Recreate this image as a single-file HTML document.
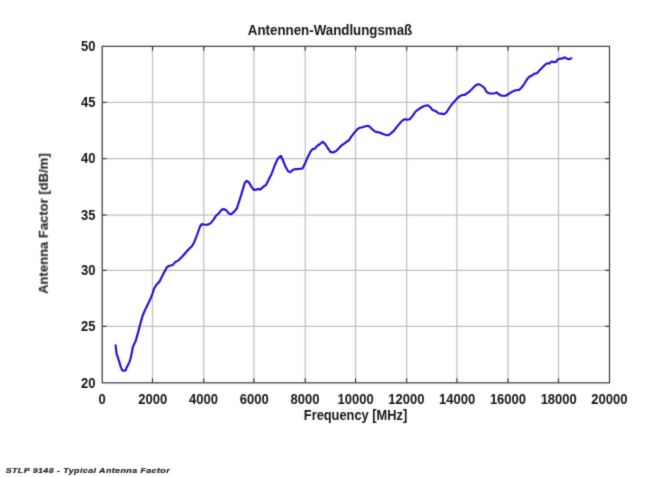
<!DOCTYPE html>
<html><head><meta charset="utf-8"><title>STLP 9148 - Typical Antenna Factor</title>
<style>
html,body{margin:0;padding:0;background:#fff;}
body{width:660px;height:477px;overflow:hidden;font-family:"Liberation Sans",sans-serif;}
svg{display:block;}
svg text{font-family:"Liberation Sans",sans-serif;font-weight:bold;fill:#161616;}
</style></head><body>
<svg width="660" height="477" viewBox="0 0 660 477">
<defs><filter id="soft" x="0" y="0" width="660" height="477" filterUnits="userSpaceOnUse" color-interpolation-filters="sRGB"><feConvolveMatrix order="3" kernelMatrix="0.01823 0.09855 0.01823 0.09855 0.53290 0.09855 0.01823 0.09855 0.01823" divisor="1" edgeMode="duplicate" preserveAlpha="false"/></filter></defs>
<rect x="0" y="0" width="660" height="477" fill="#ffffff"/>
<g filter="url(#soft)">
<g fill="none"><g stroke="#c0c0c0" stroke-width="1.25"><line x1="152.50" y1="46.3" x2="152.50" y2="382.85"/><line x1="203.75" y1="46.3" x2="203.75" y2="382.85"/><line x1="253.90" y1="46.3" x2="253.90" y2="382.85"/><line x1="305.20" y1="46.3" x2="305.20" y2="382.85"/><line x1="355.55" y1="46.3" x2="355.55" y2="382.85"/><line x1="406.65" y1="46.3" x2="406.65" y2="382.85"/><line x1="456.90" y1="46.3" x2="456.90" y2="382.85"/><line x1="508.00" y1="46.3" x2="508.00" y2="382.85"/><line x1="558.50" y1="46.3" x2="558.50" y2="382.85"/></g><g stroke="#c0c0c0" stroke-width="1.25"><line x1="102.2" y1="102.40" x2="609.5" y2="102.40"/><line x1="102.2" y1="158.60" x2="609.5" y2="158.60"/><line x1="102.2" y1="215.00" x2="609.5" y2="215.00"/><line x1="102.2" y1="270.30" x2="609.5" y2="270.30"/><line x1="102.2" y1="326.30" x2="609.5" y2="326.30"/></g></g>
<path d="M115.6,345.3 L116.1,349.5 L116.6,354.1 L117.7,356.8 L119.1,361.4 L120.6,366.4 L122.1,370.2 L123.6,370.7 L125.6,370.4 L126.6,367.7 L128.2,364.5 L129.7,361.4 L130.9,357.3 L131.8,352.7 L132.7,347.7 L133.9,344.5 L135.5,341.6 L136.4,338.4 L138.6,330.6 L140.8,322.1 L142.7,315.5 L145.6,308.9 L149.3,301.3 L152.2,294.7 L153.8,289.2 L156.6,284.5 L159.4,281.7 L163.2,274.2 L167.0,267.0 L169.8,265.8 L172.6,265.1 L175.5,261.9 L178.3,260.6 L182.1,256.8 L185.8,252.5 L188.7,249.2 L191.9,246.2 L194.3,242.1 L197.2,234.5 L200.0,226.5 L201.9,224.0 L204.7,224.7 L207.5,224.8 L210.4,223.4 L213.2,220.1 L216.0,215.8 L218.9,213.2 L221.7,209.6 L224.2,209.1 L226.4,210.4 L229.2,213.8 L231.1,214.2 L234.0,211.9 L236.8,208.5 L239.6,200.0 L242.5,190.6 L244.7,183.0 L246.8,180.8 L248.7,182.1 L250.9,185.8 L253.8,190.0 L255.7,189.6 L258.5,189.1 L260.4,189.6 L263.2,186.8 L266.0,184.9 L268.9,179.2 L271.7,173.6 L274.5,166.0 L277.4,159.4 L279.2,157.2 L280.9,155.8 L282.8,160.0 L285.1,165.7 L287.9,170.9 L290.4,172.3 L292.6,170.0 L295.5,169.1 L299.2,168.9 L302.5,168.5 L304.9,163.8 L307.7,157.2 L310.6,151.5 L312.5,149.1 L314.9,148.7 L317.2,145.8 L320.0,144.0 L322.8,141.7 L325.1,144.0 L327.5,147.7 L330.4,151.9 L333.2,152.5 L336.0,151.1 L338.9,148.3 L341.7,145.3 L344.5,143.3 L347.4,141.1 L348.5,140.8 L351.3,136.6 L354.2,132.8 L357.0,129.6 L359.8,127.7 L362.6,127.2 L365.5,126.2 L368.3,125.8 L370.2,127.2 L373.0,130.0 L375.8,131.9 L379.6,132.5 L382.5,133.8 L385.3,134.7 L388.1,135.3 L390.9,133.4 L393.8,130.9 L396.6,127.2 L399.4,123.8 L402.3,120.6 L404.5,119.2 L407.0,119.6 L409.8,119.2 L412.6,115.9 L415.6,111.5 L418.4,109.3 L421.3,107.5 L424.2,106.0 L427.9,105.3 L429.8,106.6 L432.6,110.0 L435.5,110.9 L438.3,113.2 L441.1,113.6 L444.0,114.2 L446.5,112.2 L449.1,108.2 L451.8,104.5 L454.5,101.4 L457.3,98.2 L459.5,96.4 L462.3,95.0 L464.5,95.0 L466.8,93.5 L470.0,91.1 L471.8,89.3 L474.5,86.4 L476.8,84.6 L478.6,84.3 L480.5,85.0 L482.7,86.5 L484.5,88.0 L485.9,90.9 L487.7,92.7 L490.0,93.5 L492.7,93.5 L495.0,93.2 L496.8,92.4 L498.7,94.3 L501.7,95.7 L505.5,95.7 L508.3,94.2 L511.1,92.3 L514.0,90.9 L516.8,90.0 L519.1,90.0 L521.5,87.5 L524.3,83.8 L527.2,79.1 L529.4,76.8 L532.4,75.3 L534.5,73.6 L537.0,73.2 L539.9,69.9 L542.8,67.1 L545.4,64.4 L547.6,63.2 L549.3,63.6 L551.6,61.4 L554.0,62.3 L556.0,61.7 L558.1,59.2 L560.2,58.6 L562.1,58.7 L564.3,57.4 L566.2,58.3 L568.7,59.2 L571.5,58.3" fill="none" stroke="#1c0cdc" stroke-width="2.1" stroke-linejoin="round" stroke-linecap="round"/>
<g stroke="#333333" stroke-width="1.1" fill="none"><line x1="152.50" y1="46.3" x2="152.50" y2="50.8"/><line x1="152.50" y1="382.85" x2="152.50" y2="378.35"/><line x1="203.75" y1="46.3" x2="203.75" y2="50.8"/><line x1="203.75" y1="382.85" x2="203.75" y2="378.35"/><line x1="253.90" y1="46.3" x2="253.90" y2="50.8"/><line x1="253.90" y1="382.85" x2="253.90" y2="378.35"/><line x1="305.20" y1="46.3" x2="305.20" y2="50.8"/><line x1="305.20" y1="382.85" x2="305.20" y2="378.35"/><line x1="355.55" y1="46.3" x2="355.55" y2="50.8"/><line x1="355.55" y1="382.85" x2="355.55" y2="378.35"/><line x1="406.65" y1="46.3" x2="406.65" y2="50.8"/><line x1="406.65" y1="382.85" x2="406.65" y2="378.35"/><line x1="456.90" y1="46.3" x2="456.90" y2="50.8"/><line x1="456.90" y1="382.85" x2="456.90" y2="378.35"/><line x1="508.00" y1="46.3" x2="508.00" y2="50.8"/><line x1="508.00" y1="382.85" x2="508.00" y2="378.35"/><line x1="558.50" y1="46.3" x2="558.50" y2="50.8"/><line x1="558.50" y1="382.85" x2="558.50" y2="378.35"/><line x1="102.2" y1="102.40" x2="106.7" y2="102.40"/><line x1="609.5" y1="102.40" x2="605.0" y2="102.40"/><line x1="102.2" y1="158.60" x2="106.7" y2="158.60"/><line x1="609.5" y1="158.60" x2="605.0" y2="158.60"/><line x1="102.2" y1="215.00" x2="106.7" y2="215.00"/><line x1="609.5" y1="215.00" x2="605.0" y2="215.00"/><line x1="102.2" y1="270.30" x2="106.7" y2="270.30"/><line x1="609.5" y1="270.30" x2="605.0" y2="270.30"/><line x1="102.2" y1="326.30" x2="106.7" y2="326.30"/><line x1="609.5" y1="326.30" x2="605.0" y2="326.30"/></g>
<rect x="102.2" y="46.3" width="507.3" height="336.55" fill="none" stroke="#383838" stroke-width="1.2"/>
<g font-size="14px"><text transform="translate(102.00,404) scale(0.93,1)" text-anchor="middle">0</text><text transform="translate(152.66,404) scale(0.93,1)" text-anchor="middle">2000</text><text transform="translate(203.41,404) scale(0.93,1)" text-anchor="middle">4000</text><text transform="translate(254.17,404) scale(0.93,1)" text-anchor="middle">6000</text><text transform="translate(304.93,404) scale(0.93,1)" text-anchor="middle">8000</text><text transform="translate(355.68,404) scale(0.93,1)" text-anchor="middle">10000</text><text transform="translate(406.44,404) scale(0.93,1)" text-anchor="middle">12000</text><text transform="translate(457.19,404) scale(0.93,1)" text-anchor="middle">14000</text><text transform="translate(507.95,404) scale(0.93,1)" text-anchor="middle">16000</text><text transform="translate(558.70,404) scale(0.93,1)" text-anchor="middle">18000</text><text transform="translate(609.30,404) scale(0.93,1)" text-anchor="middle">20000</text><text transform="translate(95.6,51) scale(0.93,1)" text-anchor="end">50</text><text transform="translate(95.6,107) scale(0.93,1)" text-anchor="end">45</text><text transform="translate(95.6,163) scale(0.93,1)" text-anchor="end">40</text><text transform="translate(95.6,220) scale(0.93,1)" text-anchor="end">35</text><text transform="translate(95.6,275) scale(0.93,1)" text-anchor="end">30</text><text transform="translate(95.6,331) scale(0.93,1)" text-anchor="end">25</text><text transform="translate(95.6,388) scale(0.93,1)" text-anchor="end">20</text></g>
<text transform="translate(330.05,35.2) scale(0.919,1)" text-anchor="middle" font-size="14.5px">Antennen-Wandlungsmaß</text>
<text transform="translate(355.5,420) scale(0.924,1)" text-anchor="middle" font-size="13.9px">Frequency [MHz]</text>
<text transform="translate(47.8,223.6) rotate(-90)" text-anchor="middle" font-size="13.05px">Antenna Factor [dB/m]</text>
<text transform="translate(5.7,473.3) scale(1.1,1)" font-size="8px" font-style="italic" style="fill:#1c1c1c;stroke:#1c1c1c;stroke-width:0.2px" textLength="149" lengthAdjust="spacing">STLP 9148 - Typical Antenna Factor</text>
</g>
</svg>
</body></html>
